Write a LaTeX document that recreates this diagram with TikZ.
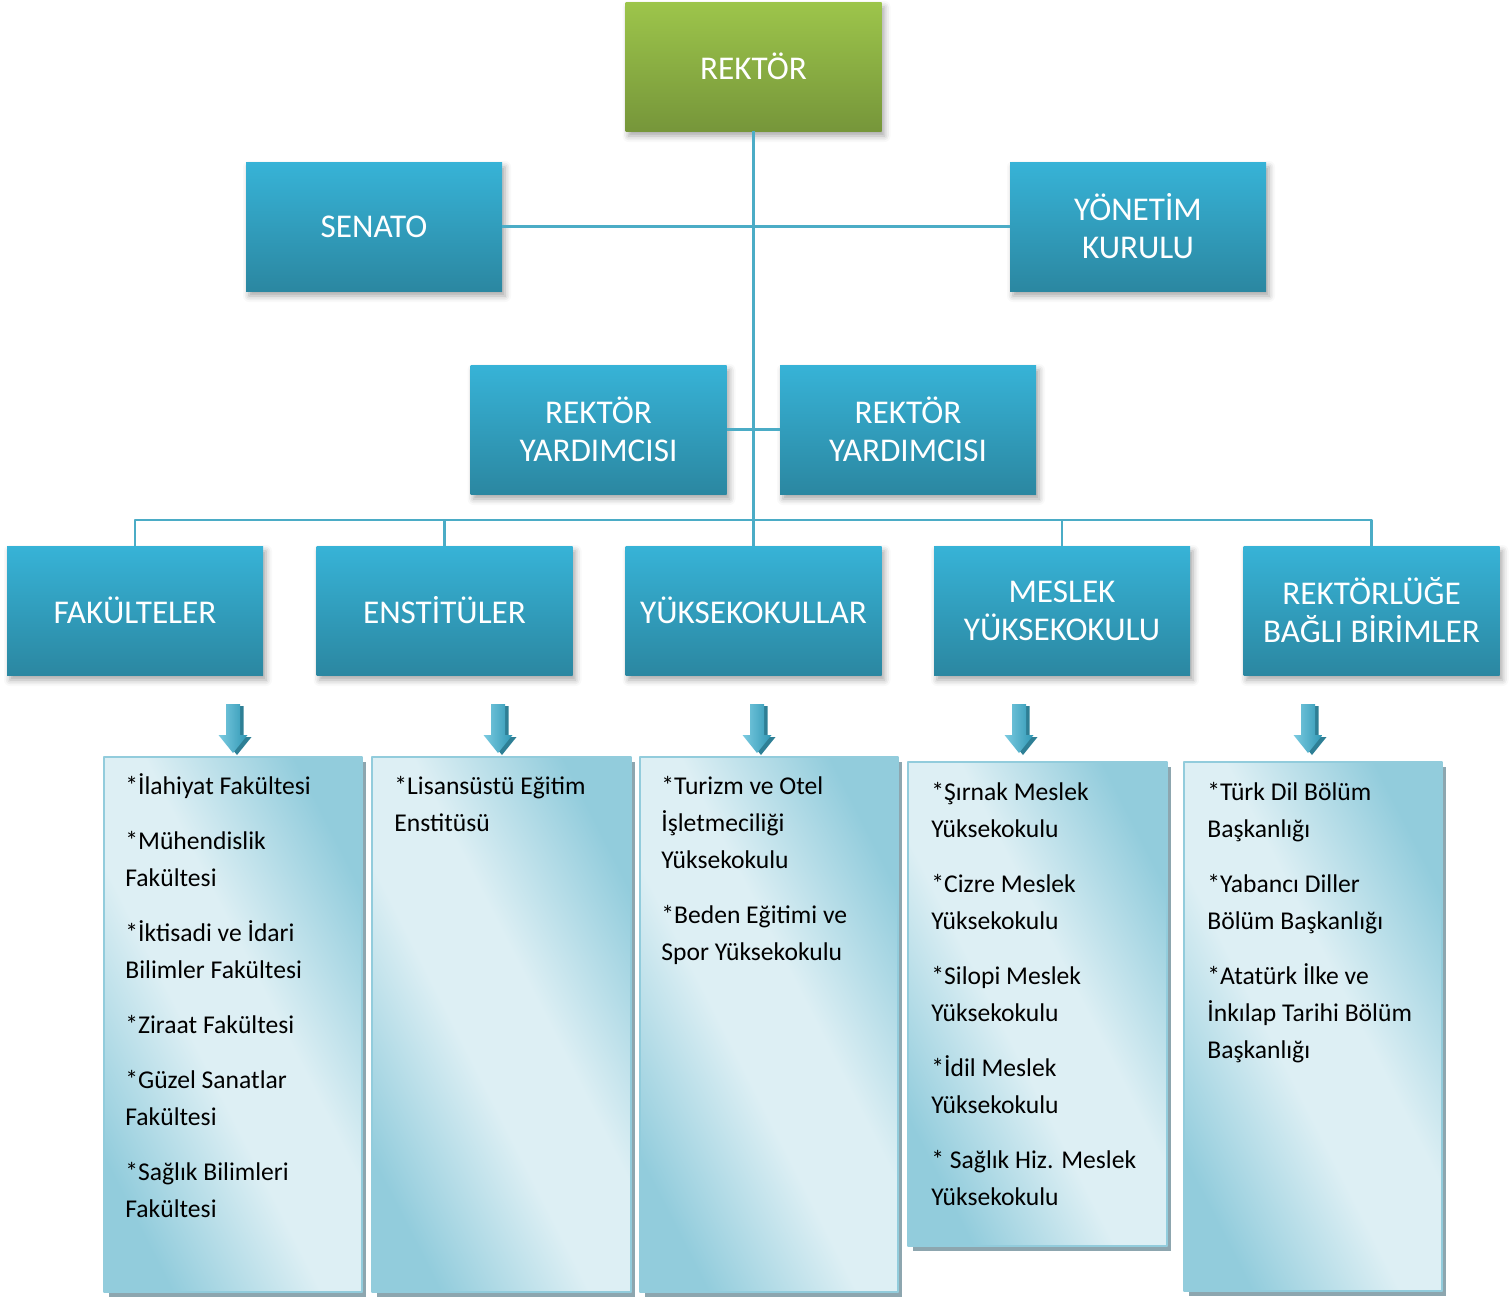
\documentclass[tikz,border=0pt]{standalone}
\usepackage{fontspec}
\setmainfont{Carlito}
\usetikzlibrary{shadows.blur}
\definecolor{maviust}{HTML}{37B3D7}
\definecolor{mavialt}{HTML}{2B87A1}
\definecolor{yesilust}{HTML}{9DC54B}
\definecolor{yesilalt}{HTML}{76963A}
\definecolor{hatrenk}{HTML}{4BACC6}
\definecolor{listekoyu}{HTML}{92CCDC}
\definecolor{listeacik}{HTML}{DDEFF4}
\definecolor{listegolge}{HTML}{8DA6AF}
\definecolor{okacik}{HTML}{7CCBE1}
\definecolor{okkoyu}{HTML}{2F97B4}
\definecolor{okgolge}{HTML}{2E7F95}
\pgfdeclareverticalshading{listedolgu}{100bp}{color(0bp)=(listekoyu); color(25bp)=(listekoyu);
  color(44bp)=(listeacik); color(56bp)=(listeacik); color(75bp)=(listekoyu); color(100bp)=(listekoyu)}
\tikzset{
  kutu/.style={rectangle, minimum width=128pt, minimum height=64.5pt, inner sep=2pt,
    align=center, text=white, font=\fontsize{16.6pt}{19pt}\selectfont,
    top color=maviust, bottom color=mavialt,
    blur shadow={shadow xshift=1.5pt, shadow yshift=-2.5pt, shadow blur radius=3pt, shadow opacity=35}},
  yesilkutu/.style={kutu, top color=yesilust, bottom color=yesilalt},
  hat/.style={draw=hatrenk, line width=1.3pt},
  listekutu/.style={draw=listekoyu, line width=1pt, shading=listedolgu, shading angle=-63},
  liste/.style={anchor=base west, align=left, inner sep=0pt, font=\fontsize{12.8pt}{18.5pt}\selectfont},
}
\begin{document}
\begin{tikzpicture}[x=0.5pt,y=-0.5pt,line join=round]
  \useasboundingbox (0,0) rectangle (1511,1298);
  %% Kutular
  \node[yesilkutu] (rektor) at (753.5,66.5) {REKTÖR};
  \node[kutu] (senato) at (374,226.5) {SENATO};
  \node[kutu] (yonetim) at (1138,226.5) {YÖNETİM\\KURULU};
  \node[kutu] (yard1) at (598.5,429.5) {REKTÖR\\YARDIMCISI};
  \node[kutu] (yard2) at (908,429.5) {REKTÖR\\YARDIMCISI};
  \node[kutu] (fak) at (135,610.5) {FAKÜLTELER};
  \node[kutu] (enst) at (444.5,610.5) {ENSTİTÜLER};
  \node[kutu] (yuk) at (753.5,610.5) {YÜKSEKOKULLAR};
  \node[kutu] (meslek) at (1062,610.5) {MESLEK\\YÜKSEKOKULU};
  \node[kutu] (birim) at (1371.5,610.5) {REKTÖRLÜĞE\\BAĞLI BİRİMLER};
  %% Bağlantılar
  \coordinate (bus) at (753.5,520);
  \draw[hat] (rektor) -- (yuk);
  \draw[hat] (senato) -- (yonetim);
  \draw[hat] (yard1) -- (yard2);
  \foreach \n in {fak,enst,meslek,birim}{
    \draw[hat] (bus) -| (\n);
  }
  %% Oklar
  \foreach \c in {233,498,757,1019,1308}{
    \begin{scope}[shift={(\c,704)}]
      \fill[okgolge] (-2.5,2)--(10.5,2)--(10.5,33)--(18.5,33)--(4,51)--(-10.5,33)--(-2.5,33)--cycle;
      \shade[left color=okacik, right color=okkoyu] (-7,0)--(7,0)--(7,31)--(14.5,31)--(0,49)--(-14.5,31)--(-7,31)--cycle;
    \end{scope}
  }
  %% Liste kutuları
  \foreach \x/\y/\X/\Y in {104/757/362/1292, 372/757/631/1292, 640/757/898/1292, 908/762/1167/1246, 1184/762/1442/1291}{
    \fill[listegolge] (\x+5,\y+5) rectangle (\X+4,\Y+5);
    \draw[listekutu] (\x,\y) rectangle (\X,\Y);
  }
  %% Metinler (son satırın taban çizgisine göre)
  \node[liste] (l1) at (125,1217) {*İlahiyat Fakültesi\\[9pt]*Mühendislik\\Fakültesi\\[9pt]*İktisadi ve İdari\\Bilimler Fakültesi\\[9pt]*Ziraat Fakültesi\\[9pt]*Güzel Sanatlar\\Fakültesi\\[9pt]*Sağlık Bilimleri\\Fakültesi};
  \node[liste] (l2) at (394,831) {*Lisansüstü Eğitim\\Enstitüsü};
  \node[liste] (l3) at (661,960) {*Turizm ve Otel\\İşletmeciliği\\Yüksekokulu\\[9pt]*Beden Eğitimi ve\\Spor Yüksekokulu};
  \node[liste] (l4) at (931,1205) {*Şırnak Meslek\\Yüksekokulu\\[9pt]*Cizre Meslek\\Yüksekokulu\\[9pt]*Silopi Meslek\\Yüksekokulu\\[9pt]*İdil Meslek\\Yüksekokulu\\[9pt]* Sağlık Hiz. Meslek\\Yüksekokulu};
  \node[liste] (l5) at (1207,1058) {*Türk Dil Bölüm\\Başkanlığı\\[9pt]*Yabancı Diller\\Bölüm Başkanlığı\\[9pt]*Atatürk İlke ve\\İnkılap Tarihi Bölüm\\Başkanlığı};
\end{tikzpicture}
\end{document}
